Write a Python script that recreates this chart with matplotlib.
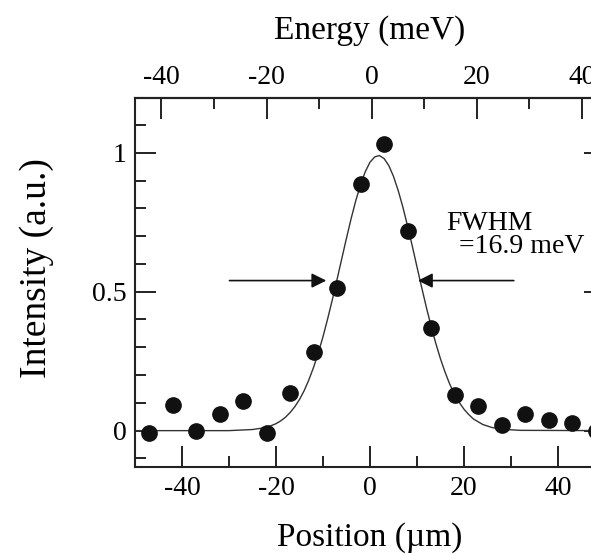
import matplotlib
matplotlib.use("Agg")
import matplotlib.pyplot as plt
from matplotlib.ticker import MultipleLocator

plt.rcParams['font.family'] = ['Liberation Serif', 'DejaVu Serif']
plt.rcParams['axes.unicode_minus'] = False
plt.rcParams['mathtext.fontset'] = 'stix'

# measured data points
pos_data = [-47, -42, -37, -32, -27, -22, -17, -12, -7, -2, 3, 8, 13, 18, 23, 28, 33, 38, 43, 48]
int_data = [-0.01, 0.092, 0.0, 0.059, 0.108, -0.007, 0.134, 0.282, 0.512, 0.886,
            1.030, 0.719, 0.370, 0.128, 0.089, 0.020, 0.059, 0.038, 0.027, 0.0]

# fit curve
pos_fit = [-50, -30, -25, -23, -22, -21, -20, -19, -18, -17, -16, -15, -14, -13, -12, -11, -10,
           -9, -8, -7, -6, -5, -4, -3, -2, -1, 0, 1, 2, 3, 4, 5, 6, 7, 8, 9, 10, 11, 12,
           13, 14, 15, 16, 17, 18, 19, 20, 21, 22, 24, 26, 28, 32, 50]
int_fit = [0.0, 0.0, 0.004, 0.009, 0.0125, 0.018, 0.025, 0.035, 0.048, 0.065, 0.086, 0.112,
           0.144, 0.183, 0.228, 0.280, 0.338, 0.403, 0.472, 0.545, 0.619, 0.693, 0.764,
           0.829, 0.886, 0.932, 0.966, 0.985, 0.99, 0.979, 0.954, 0.915, 0.864, 0.804,
           0.736, 0.664, 0.589, 0.515, 0.443, 0.376, 0.314, 0.258, 0.209, 0.166, 0.131,
           0.101, 0.077, 0.058, 0.042, 0.022, 0.011, 0.005, 0.001, 0.0]

# FWHM arrows (tail x, head x) and level
arrow_left = (-29.9, -9.3)
arrow_right = (30.6, 10.2)
arrow_level = 0.54

# conversion position (um) -> energy (meV)
e_scale = 0.894
e_zero = 0.36

fig = plt.figure(figsize=(5.91, 5.55), dpi=100)
ax = fig.add_axes([0.2284, 0.158, 0.7953, 0.6649])

ax.plot(pos_fit, int_fit, color='#333333', lw=1.0, zorder=2)
ax.plot(pos_data, int_data, 'o', color='#111111', ms=11, zorder=3, clip_on=False)

for tail, head in (arrow_left, arrow_right):
    ax.annotate('', xy=(head, arrow_level), xytext=(tail, arrow_level),
                arrowprops=dict(arrowstyle='-|>', mutation_scale=22, lw=1.2,
                                color='#111111', shrinkA=0, shrinkB=0))

ax.text(16.25, 0.744, 'FWHM', fontsize=20, ha='left', va='center')
ax.text(18.9, 0.662, '=16.9 meV', fontsize=20, ha='left', va='center')

ax.set_xlim(-50, 50)
ax.set_ylim(-0.132, 1.196)

ax.xaxis.set_major_locator(MultipleLocator(20))
ax.xaxis.set_minor_locator(MultipleLocator(10))
ax.yaxis.set_major_locator(MultipleLocator(0.5))
ax.yaxis.set_minor_locator(MultipleLocator(0.1))
ax.set_yticks([0, 0.5, 1])
ax.set_yticklabels(['0', '0.5', '1'])

ax.tick_params(which='both', direction='in', top=False, right=True, width=1.4, color='#222222')
ax.tick_params(which='major', length=15)
ax.tick_params(which='minor', length=8)
ax.tick_params(axis='x', labelsize=20, pad=6)
ax.tick_params(axis='y', labelsize=20, pad=6)
for s in ax.spines.values():
    s.set_linewidth(1.5)
    s.set_color('#222222')

ax.set_xlabel('Position (µm)', fontsize=24, labelpad=15.5)
ax.set_ylabel('Intensity (a.u.)', fontsize=27)
ax.yaxis.set_label_coords(-0.172, 0.541)

sec = ax.secondary_xaxis('top', functions=(lambda p: e_scale * (p - e_zero),
                                           lambda e: e / e_scale + e_zero))
sec.xaxis.set_major_locator(MultipleLocator(20))
sec.xaxis.set_minor_locator(MultipleLocator(10))
sec.tick_params(which='both', direction='in', width=1.4, color='#222222')
sec.tick_params(which='major', length=15, labelsize=20, pad=6)
sec.tick_params(which='minor', length=8)
sec.spines['top'].set_linewidth(1.5)
sec.set_xlabel('Energy (meV)', fontsize=24, labelpad=19)

fig.savefig('out.png', dpi=100)
